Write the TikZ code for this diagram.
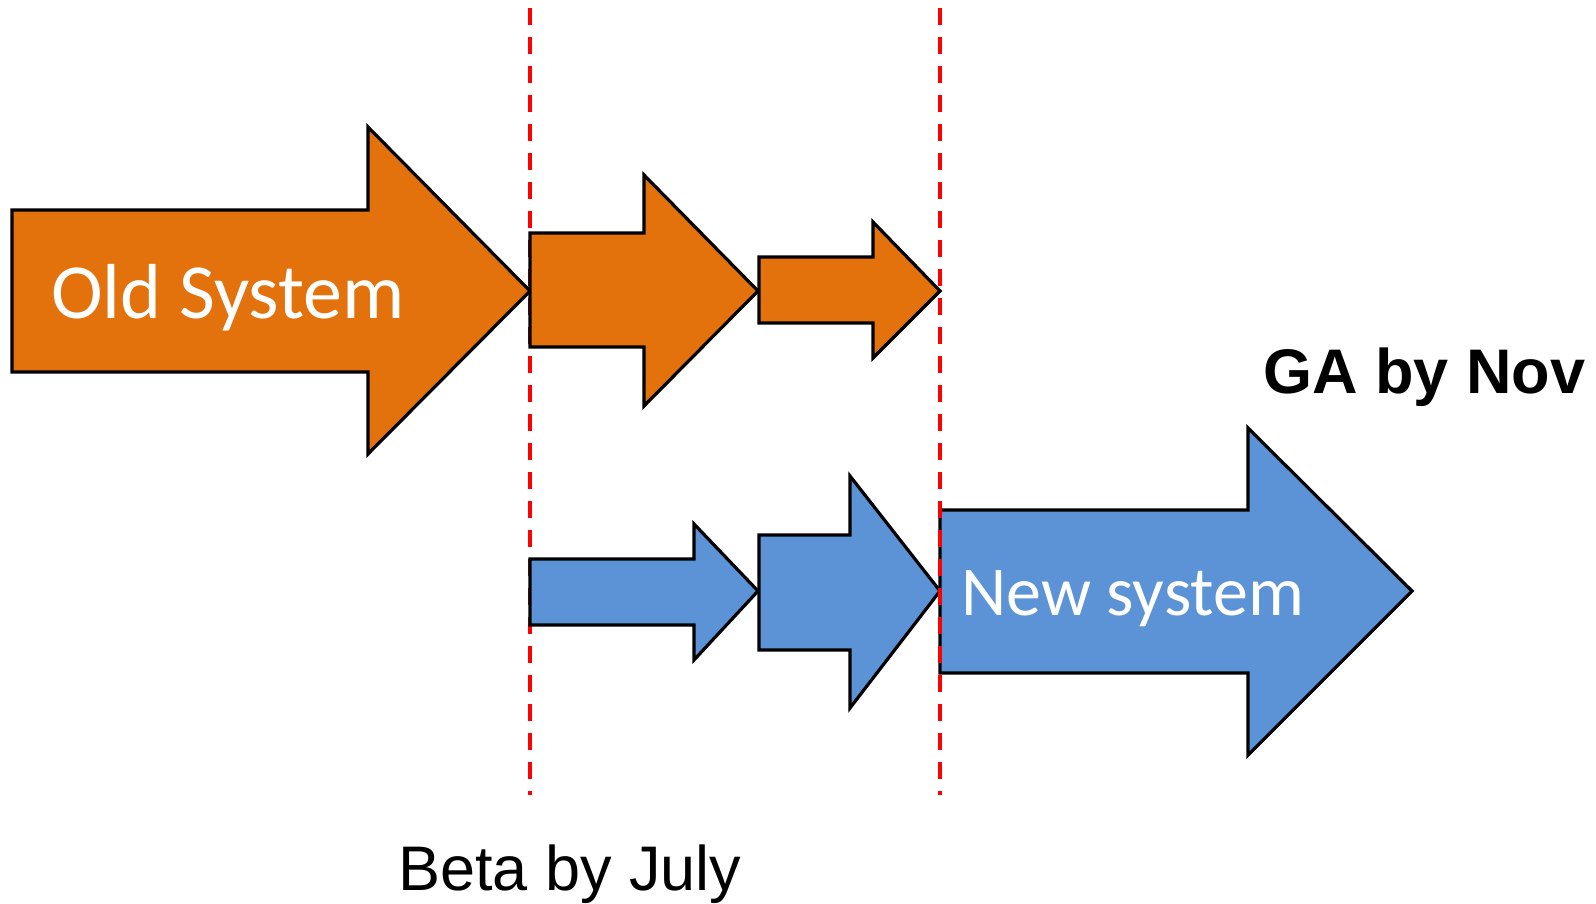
\documentclass[tikz,border=0pt]{standalone}
\usepackage{fontspec}
\setmainfont{Liberation Sans}
\newfontfamily\phasefont{Carlito}

\definecolor{oldorange}{RGB}{227,113,12}
\definecolor{newblue}{RGB}{91,147,214}
\definecolor{milestonered}{RGB}{255,0,0}

% block arrow: style, x left, y shaft top, y shaft bottom,
% x head base, y head top, y head bottom, x tip, y tip
\newcommand\phasearrow[9]{%
  \path[#1] (#2,#3) -- (#5,#3) -- (#5,#6) -- (#8,#9) -- (#5,#7)
    -- (#5,#4) -- (#2,#4) -- cycle;}

\tikzset{
  phase/.style={draw=black, line width=3.2pt, line join=miter},
  oldphase/.style={phase, fill=oldorange},
  newphase/.style={phase, fill=newblue},
  milestone/.style={draw=milestonered, line width=3.2pt, dash pattern=on 17pt off 12pt},
  phaselabel/.style={inner sep=0pt, anchor=base west, text=white},
  caption/.style={inner sep=0pt, anchor=base west, text=black}
}

\begin{document}
\begin{tikzpicture}[x=1pt, y=-1pt]
  \useasboundingbox (0,0) rectangle (1596,904);

  % milestone at the beta release (behind the arrows)
  \coordinate (betatop) at (530,8);
  \coordinate (betabot) at (530,795);
  \draw[milestone] (betatop) -- (betabot);

  % old system, winding down
  \phasearrow{oldphase}{12}{210}{372}{368}{127}{454}{530}{291}
  \phasearrow{oldphase}{530}{233}{347}{644}{175}{406}{758}{291}
  \phasearrow{oldphase}{759}{257}{323}{873}{222}{358}{940}{291}

  % new system, ramping up
  \phasearrow{newphase}{530}{559}{625}{694}{524}{660}{758}{591}
  \phasearrow{newphase}{759}{535}{650}{850}{476}{708}{940}{591}
  \phasearrow{newphase}{940}{510}{673}{1248}{428}{755}{1412}{591}

  % milestone at general availability
  \coordinate (gatop) at (940,8);
  \coordinate (gabot) at (940,795);
  \draw[milestone] (gatop) -- (gabot);

  \node[phaselabel, font=\phasefont\fontsize{78}{78}\selectfont] (oldlabel) at (51,318) {Old System};
  \node[phaselabel, font=\phasefont\fontsize{70}{70}\selectfont] (newlabel) at (961,615) {New system};

  \node[caption, font=\bfseries\fontsize{63}{63}\selectfont] (ga) at (1263,393) {GA by Nov};
  \node[caption, font=\fontsize{63}{63}\selectfont] (beta) at (398,890) {Beta by July};
\end{tikzpicture}
\end{document}
